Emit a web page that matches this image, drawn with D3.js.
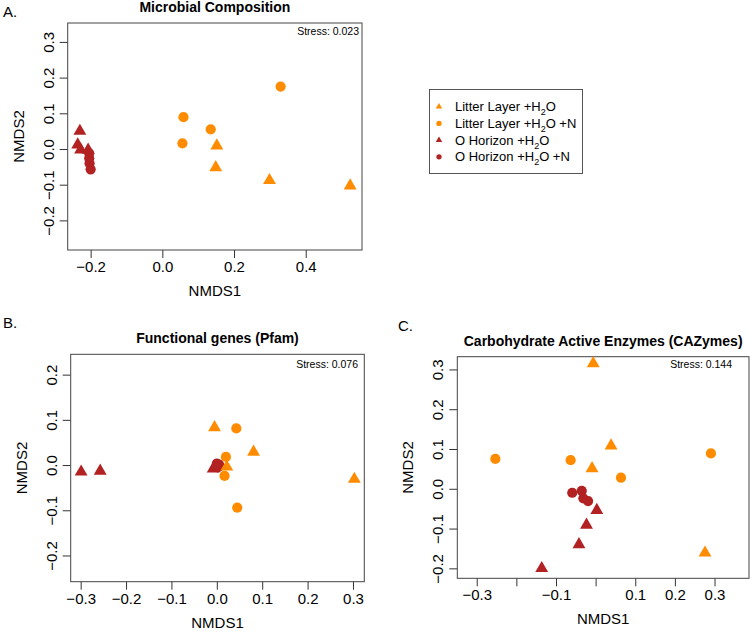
<!DOCTYPE html>
<html>
<head>
<meta charset="utf-8">
<script src="https://cdn.jsdelivr.net/npm/d3@7"></script>
<style>
  body { margin: 0; background: #fff; }
  svg { font-family: "Liberation Sans", Arial, Helvetica, sans-serif; }
</style>
</head>
<body>
<svg id="chart" width="750" height="633"></svg>
<script>
// group order: litter H2O, litter H2O+N, O horizon H2O, O horizon H2O+N
const groupBase = ["Litter Layer +H", "Litter Layer +H", "O Horizon +H", "O Horizon +H"];
const groupTail = ["O", "O +N", "O", "O +N"];
const groupShape = ["triangle", "circle", "triangle", "circle"];
const groupColor = ["#ff8c00", "#ff8c00", "#b22222", "#b22222"];
const drawOrder = [2, 3, 0, 1];

// A. Microbial Composition  (NMDS1, NMDS2)
const microbialLitterW = [[0.152, 0.009], [0.149, -0.052], [0.299, -0.088], [0.524, -0.103]];
const microbialLitterWN = [[0.330, 0.175], [0.059, 0.089], [0.135, 0.055], [0.056, 0.016]];
const microbialHorizonW = [[-0.230, 0.050], [-0.236, 0.012], [-0.228, -0.002], [-0.207, -0.003]];
const microbialHorizonWN = [[-0.204, -0.012], [-0.204, -0.026], [-0.203, -0.040], [-0.200, -0.057]];

// B. Functional genes (Pfam)
const pfamLitterW = [[-0.005, 0.083], [0.081, 0.029], [0.303, -0.031], [0.022, -0.004]];
const pfamLitterWN = [[0.043, 0.081], [0.020, 0.018], [0.017, -0.024], [0.045, -0.094]];
const pfamHorizonW = [[-0.299, -0.015], [-0.257, -0.013], [-0.008, -0.008], [-0.002, -0.004]];
const pfamHorizonWN = [[0.000, 0.003], [0.003, -0.002], [0.005, 0.001], [0.002, -0.005]];

// C. Carbohydrate Active Enzymes (CAZymes)
const cazLitterW = [[-0.006, 0.315], [0.039, 0.108], [-0.009, 0.051], [0.276, -0.161]];
const cazLitterWN = [[-0.253, 0.075], [-0.063, 0.072], [0.064, 0.028], [0.291, 0.089]];
const cazHorizonW = [[0.003, -0.054], [-0.023, -0.091], [-0.042, -0.140], [-0.136, -0.200]];
const cazHorizonWN = [[-0.059, -0.010], [-0.035, -0.005], [-0.031, -0.024], [-0.019, -0.031]];

const microbialXTicks = [-0.2, 0, 0.2, 0.4];
const microbialYTicks = [-0.2, -0.1, 0, 0.1, 0.2, 0.3];
const pfamXTicks = [-0.3, -0.2, -0.1, 0, 0.1, 0.2, 0.3];
const pfamYTicks = [-0.2, -0.1, 0, 0.1, 0.2];
const cazXTicks = [-0.3, -0.2, -0.1, 0, 0.1, 0.2, 0.3];
const cazXLabels = ["\u22120.3", "", "\u22120.1", "", "0.1", "0.2", "0.3"];
const cazYTicks = [-0.2, -0.1, 0, 0.1, 0.2, 0.3];

const stressValues = ["0.023", "0.076", "0.144"];

const svg = d3.select("#chart");
const fmt = d3.format(".1f");

function drawPanel(p) {
  const x = d3.scaleLinear().domain(p.xDomain).range([p.left, p.right]);
  const y = d3.scaleLinear().domain(p.yDomain).range([p.bottom, p.top]);
  const g = svg.append("g");

  // x axis
  g.append("g")
    .attr("transform", "translate(0," + p.bottom + ")")
    .call(d3.axisBottom(x)
      .tickValues(p.xTicks)
      .tickSize(8)
      .tickFormat((d, i) => p.xLabels ? p.xLabels[i] : fmt(d)))
    .call(a => a.select(".domain").remove())
    .call(a => a.selectAll(".tick line").attr("stroke", "#333"))
    .call(a => a.selectAll(".tick text")
      .attr("y", 22).attr("dy", null)
      .attr("fill", "#000")
      .style("font-size", "15px")
      .style("font-family", "inherit"));

  // y axis, labels parallel to axis
  g.append("g")
    .attr("transform", "translate(" + p.left + ",0)")
    .call(d3.axisLeft(y).tickValues(p.yTicks).tickSize(8).tickFormat(fmt))
    .call(a => a.select(".domain").remove())
    .call(a => a.selectAll(".tick line").attr("stroke", "#333"))
    .call(a => a.selectAll(".tick text")
      .attr("x", null).attr("dy", null)
      .attr("text-anchor", "middle")
      .attr("transform", "translate(-14,0) rotate(-90)")
      .attr("fill", "#000")
      .style("font-size", "15px")
      .style("font-family", "inherit"));

  // box
  g.append("rect")
    .attr("x", p.left).attr("y", p.top)
    .attr("width", p.right - p.left).attr("height", p.bottom - p.top)
    .attr("fill", "none").attr("stroke", "#444").attr("stroke-width", 1);

  // points
  drawOrder.forEach(k => {
    g.selectAll(null)
      .data(p.series[k])
      .enter()
      .append("path")
      .attr("transform", d => "translate(" + x(d[0]) + "," + y(d[1]) + ")")
      .attr("d", d3.symbol()
        .type(groupShape[k] === "triangle" ? d3.symbolTriangle : d3.symbolCircle)
        .size(groupShape[k] === "triangle" ? 72 : 82)())
      .attr("fill", groupColor[k]);
  });

  // titles
  g.append("text")
    .attr("x", (p.left + p.right) / 2).attr("y", p.top - 11)
    .attr("text-anchor", "middle")
    .style("font-size", "14px").style("font-weight", "bold")
    .text(p.title);
  g.append("text")
    .attr("x", p.letterX).attr("y", p.letterY)
    .style("font-size", "15px")
    .text(p.letter);
  g.append("text")
    .attr("x", p.stressX).attr("y", p.top + p.stressDy)
    .attr("text-anchor", "end")
    .style("font-size", "10.5px")
    .text("Stress: " + p.stress);
  g.append("text")
    .attr("x", (p.left + p.right) / 2).attr("y", p.bottom + 46)
    .attr("text-anchor", "middle")
    .style("font-size", "15px")
    .text("NMDS1");
  g.append("text")
    .attr("transform", "translate(" + (p.left - 44) + "," + ((p.top + p.bottom) / 2) + ") rotate(-90)")
    .attr("text-anchor", "middle")
    .style("font-size", "15px")
    .text("NMDS2");
}

drawPanel({
  title: "Microbial Composition", letter: "A.", letterX: 3, letterY: 17,
  stress: stressValues[0], stressX: 359, stressDy: 12,
  left: 67.7, right: 362, top: 23, bottom: 250,
  xDomain: [-0.264, 0.557], yDomain: [-0.283, 0.353],
  xTicks: microbialXTicks, yTicks: microbialYTicks,
  series: [microbialLitterW, microbialLitterWN, microbialHorizonW, microbialHorizonWN]
});

drawPanel({
  title: "Functional genes (Pfam)", letter: "B.", letterX: 3, letterY: 328,
  stress: stressValues[1], stressX: 358, stressDy: 14,
  left: 70.7, right: 364.3, top: 354.3, bottom: 581.7,
  xDomain: [-0.322, 0.325], yDomain: [-0.258, 0.245],
  xTicks: pfamXTicks, yTicks: pfamYTicks,
  series: [pfamLitterW, pfamLitterWN, pfamHorizonW, pfamHorizonWN]
});

drawPanel({
  title: "Carbohydrate Active Enzymes (CAZymes)", letter: "C.", letterX: 398, letterY: 331,
  stress: stressValues[2], stressX: 732, stressDy: 11,
  left: 457.3, right: 749, top: 356.7, bottom: 578.3,
  xDomain: [-0.349, 0.387], yDomain: [-0.225, 0.332],
  xTicks: cazXTicks, xLabels: cazXLabels, yTicks: cazYTicks,
  series: [cazLitterW, cazLitterWN, cazHorizonW, cazHorizonWN]
});

// legend
const legend = svg.append("g");
legend.append("rect")
  .attr("x", 429.5).attr("y", 89.5).attr("width", 153).attr("height", 84)
  .attr("fill", "none").attr("stroke", "#555");
groupBase.forEach((base, i) => {
  const cy = 106.7 + i * 16.7;
  legend.append("path")
    .attr("transform", "translate(439," + cy + ")")
    .attr("d", d3.symbol()
      .type(groupShape[i] === "triangle" ? d3.symbolTriangle : d3.symbolCircle)
      .size(groupShape[i] === "triangle" ? 18 : 22)())
    .attr("fill", groupColor[i]);
  const t = legend.append("text")
    .attr("x", 455).attr("y", cy + 4.5)
    .style("font-size", "13px");
  t.append("tspan").text(base);
  t.append("tspan").attr("dy", 4).style("font-size", "9px").text("2");
  t.append("tspan").attr("dy", -4).text(groupTail[i]);
});
</script>
</body>
</html>
